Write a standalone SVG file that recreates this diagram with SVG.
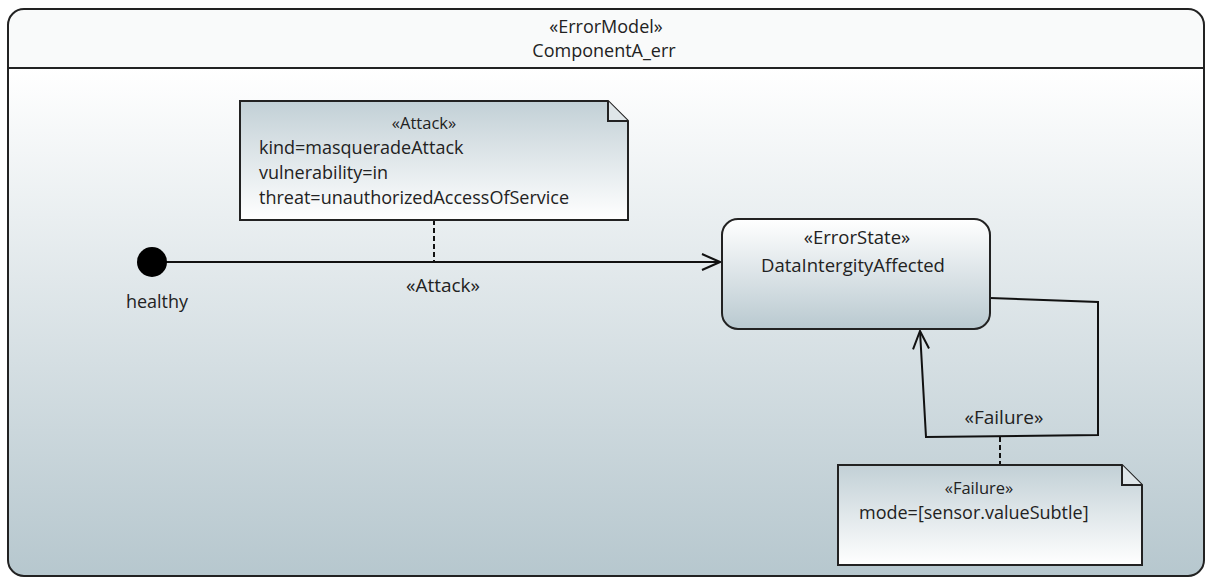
<svg xmlns="http://www.w3.org/2000/svg" width="1208" height="580" viewBox="0 0 1208 580">
  <defs>
    <linearGradient id="frameBody" x1="0" y1="0" x2="0" y2="1">
      <stop offset="0" stop-color="#ffffff"/>
      <stop offset="1" stop-color="#b6c7ce"/>
    </linearGradient>
    <linearGradient id="noteFill" x1="0" y1="0" x2="0" y2="1">
      <stop offset="0" stop-color="#c2d0d6"/>
      <stop offset="1" stop-color="#ffffff"/>
    </linearGradient>
    <linearGradient id="stateFill" x1="0" y1="0" x2="0" y2="1">
      <stop offset="0" stop-color="#ffffff"/>
      <stop offset="1" stop-color="#b9c9d0"/>
    </linearGradient>
    <clipPath id="frameClip">
      <rect x="8" y="9" width="1196" height="567" rx="16"/>
    </clipPath>
    <marker id="openArrow" viewBox="0 0 20 20" refX="19" refY="10" markerWidth="20" markerHeight="20" markerUnits="userSpaceOnUse" orient="auto">
      <path d="M1,2 L19,10 L1,18" fill="none" stroke="#111" stroke-width="2"/>
    </marker>
  </defs>
  <style>
    text { font-family: "Open Sans", "Noto Sans", "DejaVu Sans", sans-serif; fill: #222; }
    .mid { text-anchor: middle; }
    .hdr { font-size: 18px; }
    .edgeLbl { font-size: 19px; }
    .noteSt { font-size: 16.5px; }
    .noteTxt { font-size: 18px; }
    .stateSt { font-size: 18.5px; }
    .stateName { font-size: 18.5px; }
    .box { stroke: #222; stroke-width: 2; }
    .edge { fill: none; stroke: #111; stroke-width: 2; }
    .anchor { fill: none; stroke: #111; stroke-width: 2; stroke-dasharray: 5 3; }
  </style>

  <rect width="1208" height="580" fill="#ffffff"/>

  <!-- error model frame -->
  <g id="frame">
    <g clip-path="url(#frameClip)">
      <rect x="8" y="9" width="1196" height="59" fill="#f9fafa"/>
      <rect x="8" y="68" width="1196" height="510" fill="url(#frameBody)"/>
    </g>
    <rect x="8" y="9" width="1196" height="567" rx="16" fill="none" class="box"/>
    <line x1="8" y1="68" x2="1204" y2="68" stroke="#222" stroke-width="2"/>
    <text class="hdr mid" x="606" y="33">«ErrorModel»</text>
    <text class="hdr mid" x="604" y="57">ComponentA_err</text>
  </g>

  <!-- connectors -->
  <g id="connectors">
    <line class="edge" x1="166" y1="262" x2="720" y2="262" marker-end="url(#openArrow)"/>
    <line class="anchor" x1="434" y1="220" x2="434" y2="262"/>
    <polyline class="edge" points="990,298 1098,302 1098,435 926,437 920,331" marker-end="url(#openArrow)"/>
    <line class="anchor" x1="1000" y1="437" x2="1000" y2="465"/>
    <text class="edgeLbl mid" x="443" y="292">«Attack»</text>
    <text class="edgeLbl mid" x="1004" y="424">«Failure»</text>
  </g>

  <!-- initial pseudo-state -->
  <g id="healthy">
    <circle cx="152" cy="262" r="15" fill="#000"/>
    <text class="noteTxt mid" x="157" y="308">healthy</text>
  </g>

  <!-- attack note -->
  <g id="attackNote">
    <path class="box" d="M240,101 H608 L628,121 V220 H240 Z" fill="url(#noteFill)"/>
    <path class="box" d="M608,101 V121 H628" fill="#dfe6e9"/>
    <text class="noteSt mid" x="424" y="129">«Attack»</text>
    <text class="noteTxt" x="259" y="154">kind=masqueradeAttack</text>
    <text class="noteTxt" x="259" y="179">vulnerability=in</text>
    <text class="noteTxt" x="259" y="204">threat=unauthorizedAccessOfService</text>
  </g>

  <!-- error state -->
  <g id="dataIntegrityAffected">
    <rect class="box" x="722" y="219" width="268" height="110" rx="16" fill="url(#stateFill)"/>
    <text class="stateSt mid" x="857" y="244">«ErrorState»</text>
    <text class="stateName mid" x="853" y="272">DataIntergityAffected</text>
  </g>

  <!-- failure note -->
  <g id="failureNote">
    <path class="box" d="M838,465 H1122 L1142,485 V565 H838 Z" fill="url(#noteFill)"/>
    <path class="box" d="M1122,465 V485 H1142" fill="#dfe6e9"/>
    <text class="noteSt mid" x="979" y="494">«Failure»</text>
    <text class="noteTxt" x="859" y="519">mode=[sensor.valueSubtle]</text>
  </g>
</svg>
